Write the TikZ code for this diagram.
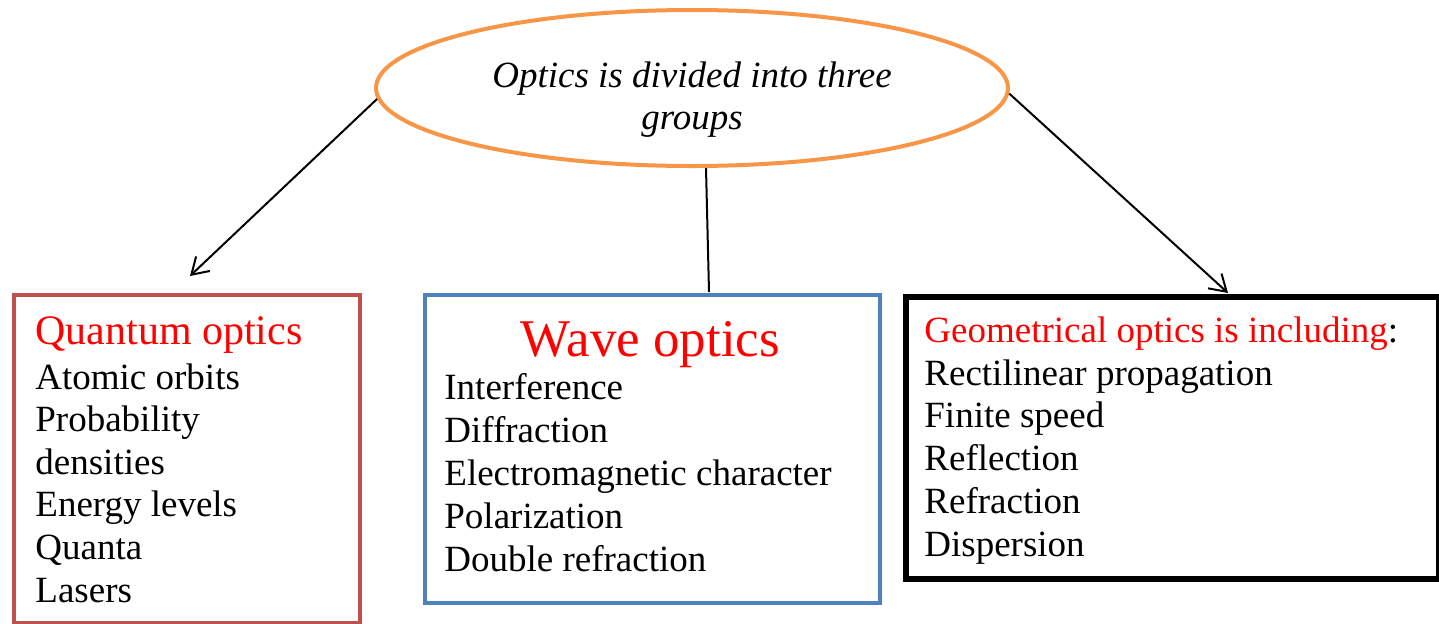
\documentclass[tikz,border=0pt]{standalone}
\usepackage{fontspec}
\setmainfont{Liberation Serif}
\usetikzlibrary{shapes.geometric,arrows.meta}
\definecolor{ovalorange}{HTML}{F79646}
\definecolor{boxred}{HTML}{C0504D}
\definecolor{boxblue}{HTML}{4F81BD}
\tikzset{
  item/.style={anchor=base west, inner sep=0pt, font=\fontsize{18.5}{21.5}\selectfont},
  head/.style={item, text=red},
  group/.style={draw, line width=2pt, inner sep=0pt, anchor=north west},
  link/.style={line width=1pt, -{Straight Barb[length=8pt,width=10pt]}},
}

\begin{document}
\begin{tikzpicture}[x=0.5pt,y=-0.5pt]
    \useasboundingbox (0,0) rectangle (1439,623);
    % the oval on top
    \node[draw=ovalorange, ellipse, line width=2pt, minimum width=316pt, minimum height=78pt] (top) at (692,88) {};
    \node[item, anchor=base, font=\fontsize{18.5}{21.5}\selectfont\itshape] (top1) at (692,87) {Optics is divided into three};
    \node[item, anchor=base, font=\fontsize{18.5}{21.5}\selectfont\itshape] (top2) at (692,129) {groups};
    \begin{scope}[shift={(12,293)}]
    \node[group, draw=boxred, minimum width=173pt, minimum height=164pt] (quantum) at (0,0) {};
    \node[head, font=\fontsize{21}{24}\selectfont] (qhead) at (23,51) {Quantum optics};
    \foreach \txt [count=\i] in {Atomic orbits, Probability, densities, Energy levels, Quanta, Lasers}
      \node[item] (q\i) at (23,{96+42.6*(\i-1)}) {\txt};
    \end{scope}
    \begin{scope}[shift={(423,293)}]
    \node[group, draw=boxblue, minimum width=227.5pt, minimum height=154pt] (wave) at (0,0) {};
    \node[head, anchor=base, font=\fontsize{26.5}{30}\selectfont] (whead) at (227.5,63) {Wave optics};
    \foreach \txt [count=\i] in {Interference, Diffraction, Electromagnetic character, Polarization, Double refraction}
      \node[item] (w\i) at (21,{106+43*(\i-1)}) {\txt};
    \end{scope}
    \begin{scope}[shift={(903,294)}]
    \node[group, draw=black, line width=2.75pt, minimum width=266.5pt, minimum height=141pt] (geo) at (0,0) {};
    \node[item] (ghead) at (21,48) {\textcolor{red}{Geometrical optics is including}:};
    \foreach \txt [count=\i] in {Rectilinear propagation, Finite speed, Reflection, Refraction, Dispersion}
      \node[item] (g\i) at (21,{91+42.8*(\i-1)}) {\txt};
    \end{scope}
    % connectors
    \coordinate (qtip) at (190,276);
    \coordinate (gtip) at (1228,293);
    \coordinate (wtop) at (709,292);
    \draw[link] (top.182) -- (qtip);
    \draw[link] (top.-1.5) -- (gtip);
    \draw[line width=1pt] ([xshift=7pt]top.south) -- (wtop);
\end{tikzpicture}
\end{document}
